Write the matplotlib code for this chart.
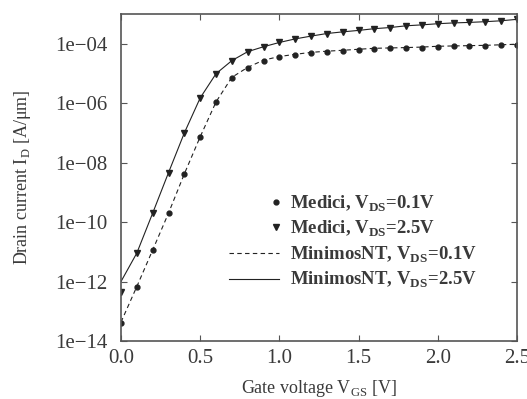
import math
import matplotlib.pyplot as plt
from matplotlib.ticker import FixedLocator, FuncFormatter
from matplotlib.legend_handler import HandlerLine2D

plt.rcParams['font.family'] = ['Liberation Serif', 'DejaVu Serif']
plt.rcParams['mathtext.fontset'] = 'custom'
plt.rcParams['mathtext.rm'] = 'Liberation Serif'
plt.rcParams['mathtext.bf'] = 'Liberation Serif:bold'

# Gate voltage sweep [V]
vg = [0.0, 0.1, 0.2, 0.3, 0.4, 0.5, 0.6, 0.7, 0.8, 0.9, 1.0, 1.1, 1.2,
      1.3, 1.4, 1.5, 1.6, 1.7, 1.8, 1.9, 2.0, 2.1, 2.2, 2.3, 2.4, 2.5]

# Medici drain current [A/um]
medici_01 = [4.1e-14, 6.6e-13, 1.15e-11, 2.0e-10, 4.2e-9, 7.4e-8, 1.1e-6, 7.2e-6,
             1.55e-5, 2.7e-5, 3.6e-5, 4.3e-5, 5.0e-5, 5.4e-5, 5.8e-5, 6.3e-5,
             6.8e-5, 6.9e-5, 7.1e-5, 7.4e-5, 7.9e-5, 8.1e-5, 8.3e-5, 8.5e-5,
             8.9e-5, 9.3e-5]
medici_25 = [4.5e-13, 9.1e-12, 2.0e-10, 4.6e-9, 1.0e-7, 1.5e-6, 9.8e-6, 2.7e-5,
             5.4e-5, 7.9e-5, 1.1e-4, 1.45e-4, 1.8e-4, 2.2e-4, 2.5e-4, 2.8e-4,
             3.2e-4, 3.5e-4, 4.0e-4, 4.3e-4, 4.7e-4, 5.0e-4, 5.2e-4, 5.5e-4,
             5.9e-4, 6.6e-4]

# MinimosNT drain current [A/um]
minimos_01 = [4.3e-14, 6.8e-13, 1.15e-11, 2.0e-10, 4.2e-9, 7.4e-8, 1.1e-6, 7.4e-6,
              1.6e-5, 2.8e-5, 3.7e-5, 4.4e-5, 5.1e-5, 5.6e-5, 6.0e-5, 6.5e-5,
              7.0e-5, 7.2e-5, 7.4e-5, 7.7e-5, 8.2e-5, 8.4e-5, 8.6e-5, 8.8e-5,
              9.2e-5, 9.6e-5]
minimos_25 = [1.0e-12, 9.1e-12, 2.0e-10, 4.6e-9, 1.0e-7, 1.5e-6, 9.8e-6, 2.7e-5,
              5.4e-5, 7.9e-5, 1.1e-4, 1.45e-4, 1.8e-4, 2.2e-4, 2.5e-4, 2.8e-4,
              3.2e-4, 3.5e-4, 4.0e-4, 4.3e-4, 4.7e-4, 5.0e-4, 5.2e-4, 5.5e-4,
              5.9e-4, 6.6e-4]

xticks = [0.0, 0.5, 1.0, 1.5, 2.0, 2.5]
yticks = [1e-14, 1e-12, 1e-10, 1e-8, 1e-6, 1e-4]


class RightMarker(HandlerLine2D):
    # single legend marker pushed to the right end of the handle box
    def get_xdata(self, legend, xdescent, ydescent, width, height, fontsize):
        right = width - xdescent
        xdata = [right - 0.35 * fontsize, right - 0.05 * fontsize]
        return xdata, xdata


fig = plt.figure(figsize=(5.27, 3.99), dpi=100)
ax = fig.add_axes([0.2296, 0.1454, 0.7514, 0.8196])

ink = '#3a3a3a'
ax.plot(vg, minimos_01, color='#222222', lw=0.8, ls=(0, (4, 3)),
        label=r'MinimosNT, V$_\mathbf{DS}$=0.1V')
ax.plot(vg, minimos_25, color='#222222', lw=0.8,
        label=r'MinimosNT, V$_\mathbf{DS}$=2.5V')
m01, = ax.plot(vg, medici_01, ls='none', marker='o', ms=3.5, color='#222222',
               label=r'Medici, V$_\mathbf{DS}$=0.1V')
m25, = ax.plot(vg, medici_25, ls='none', marker='v', ms=4, color='#222222',
               label=r'Medici, V$_\mathbf{DS}$=2.5V')

ax.set_yscale('log')
ax.set_xlim(0, 2.5)
ax.set_ylim(1e-14, 1e-3)
ax.xaxis.set_major_locator(FixedLocator(xticks))
ax.yaxis.set_major_locator(FixedLocator(yticks))
ax.yaxis.set_minor_locator(FixedLocator([]))
ax.xaxis.set_major_formatter(FuncFormatter(lambda v, p: f'{v:.1f}'))
ax.yaxis.set_major_formatter(
    FuncFormatter(lambda v, p: '1e\u2212%02d' % round(-math.log10(v))))

ax.tick_params(which='both', direction='in', top=True, right=True,
               length=4, width=0.8, color='#555555', labelsize=15,
               labelcolor=ink)
ax.tick_params(axis='y', pad=10)
ax.tick_params(axis='x', pad=6)
for s in ax.spines.values():
    s.set_linewidth(1.2)
    s.set_color('#555555')

ax.set_xlabel(r'Gate voltage V$_\mathregular{GS}$ [V]', fontsize=13, color=ink,
              labelpad=7)
ax.set_ylabel(r'Drain current I$_\mathregular{D}$ [A/$\mathregular{\mu}$m]',
              fontsize=13, color=ink, labelpad=16)

h, l = ax.get_legend_handles_labels()
order = [2, 3, 0, 1]
ax.legend([h[i] for i in order], [l[i] for i in order], loc='center left',
          bbox_to_anchor=(0.272, 0.303), borderpad=0, borderaxespad=0,
          frameon=False, handlelength=2.7, handletextpad=0.55, labelspacing=0.28,
          prop={'weight': 'bold', 'size': 13.5}, labelcolor=ink,
          handler_map={m01: RightMarker(numpoints=1), m25: RightMarker(numpoints=1)})

fig.savefig('out.png', dpi=100)
